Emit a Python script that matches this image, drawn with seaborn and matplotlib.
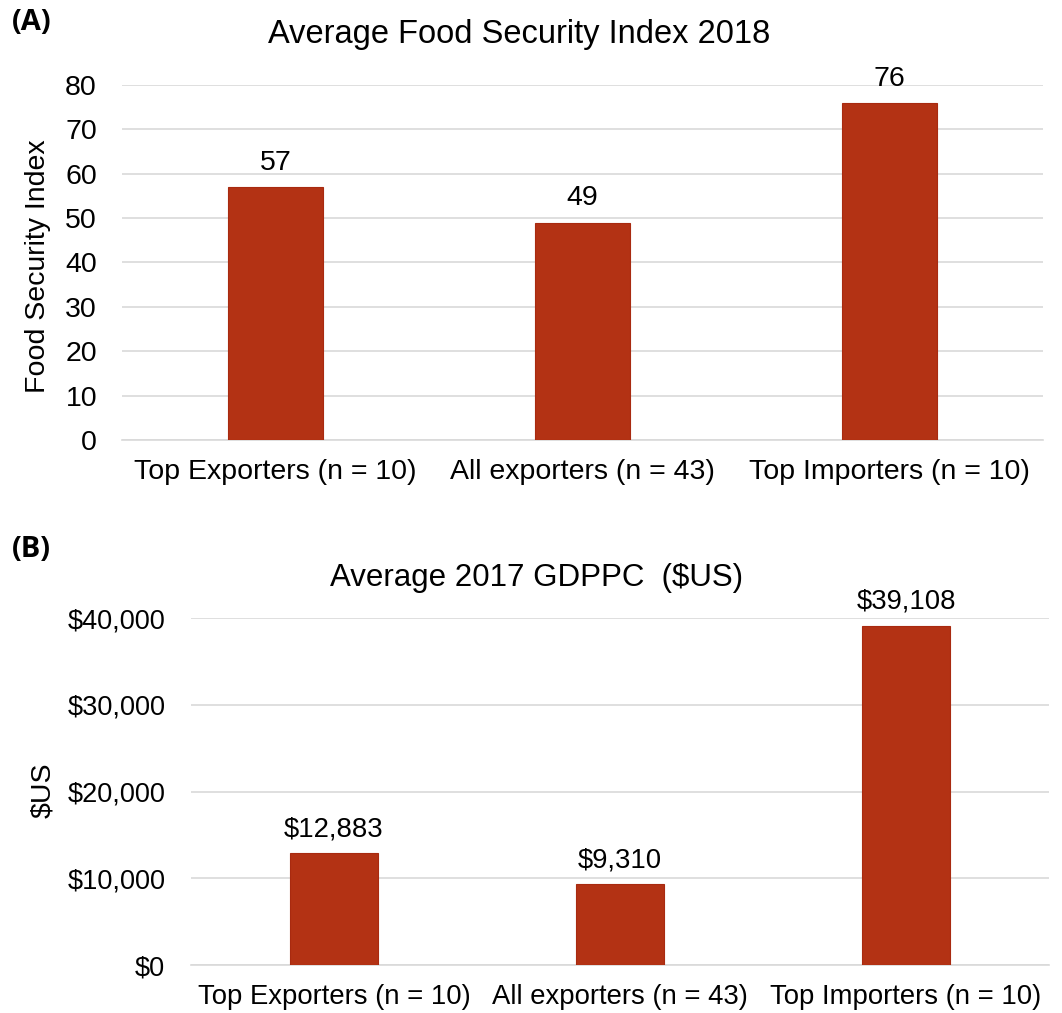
import matplotlib
matplotlib.use("Agg")
import matplotlib.pyplot as plt
import seaborn as sns
import pandas as pd
from matplotlib.ticker import FuncFormatter

categories = ["Top Exporters (n = 10)", "All exporters (n = 43)", "Top Importers (n = 10)"]
food_security = [57, 49, 76]
gdppc = [12883, 9310, 39108]
fsi_ticks = [0, 10, 20, 30, 40, 50, 60, 70, 80]
gdp_ticks = [0, 10000, 20000, 30000, 40000]

sns.set_theme(style="white")
plt.rcParams['font.family'] = ['Liberation Sans', 'DejaVu Sans']
plt.rcParams['text.color'] = 'black'
plt.rcParams['xtick.color'] = 'black'
plt.rcParams['ytick.color'] = 'black'

BAR = "#B33214"
GRID = "#D9D9D9"
FS = 20.5
FSB = 19.8

fig = plt.figure(figsize=(10.62, 10.13), dpi=100)

axA = fig.add_axes([122/1062, 1-440/1013, 921/1062, 355/1013])
axB = fig.add_axes([191/1062, 1-965/1013, 858/1062, 347/1013])

dfA = pd.DataFrame({"cat": categories, "val": food_security})
dfB = pd.DataFrame({"cat": categories, "val": gdppc})

sns.barplot(data=dfA, x="cat", y="val", color=BAR, saturation=1, width=0.31, ax=axA,
            edgecolor="#A82A10", linewidth=0.8, zorder=3)
sns.barplot(data=dfB, x="cat", y="val", color=BAR, saturation=1, width=0.31, ax=axB,
            edgecolor="#A82A10", linewidth=0.8, zorder=3)

for ax, ticks in ((axA, fsi_ticks), (axB, gdp_ticks)):
    ax.set_ylim(ticks[0], ticks[-1])
    ax.set_yticks(ticks)
    ax.set_xlim(-0.5, 2.5)
    for s in ("top", "right", "left"):
        ax.spines[s].set_visible(False)
    ax.spines["bottom"].set_color(GRID)
    ax.spines["bottom"].set_linewidth(1.2)
    ax.yaxis.grid(True, color=GRID, linewidth=1.2, zorder=0)
    ax.set_axisbelow(True)
    ax.tick_params(axis="both", length=0)
    ax.set_xlabel("")
    ax.set_ylabel("")

axA.tick_params(axis="y", labelsize=FS, pad=18)
axA.tick_params(axis="x", labelsize=FS, pad=14)
axB.tick_params(axis="y", labelsize=19.5, pad=18.5)
axB.tick_params(axis="x", labelsize=FSB, pad=14)

axB.yaxis.set_major_formatter(FuncFormatter(lambda v, p: f"${v:,.0f}"))

fig.text(38/1062, 1-266/1013, "Food Security Index", rotation=90, ha="center", va="center", fontsize=20.5)
fig.text(43/1062, 1-790/1013, "$US", rotation=90, ha="center", va="center", fontsize=20.5)

for i, v in enumerate(food_security):
    axA.annotate(f"{v}", (i, v), xytext=(0, 8), textcoords="offset points",
                 ha="center", va="bottom", fontsize=FS)
for i, v in enumerate(gdppc):
    axB.annotate(f"${v:,}", (i, v), xytext=(0, 8), textcoords="offset points",
                 ha="center", va="bottom", fontsize=FSB)

fig.text(519/1062, 1-35/1013, "Average Food Security Index 2018", ha="center", va="center", fontsize=23.5)
fig.text(537/1062, 1-578/1013, "Average 2017 GDPPC  ($US)", ha="center", va="center", fontsize=22.5)

fig.text(12/1062, 1-22/1013, "(A)", ha="left", va="center", fontsize=21, fontweight="bold",
         family=["Open Sans", "DejaVu Sans"])
fig.text(12/1062, 1-549/1013, "(B)", ha="left", va="center", fontsize=21, fontweight="bold",
         family=["Open Sans", "DejaVu Sans"])

fig.savefig("out.png", dpi=100)
